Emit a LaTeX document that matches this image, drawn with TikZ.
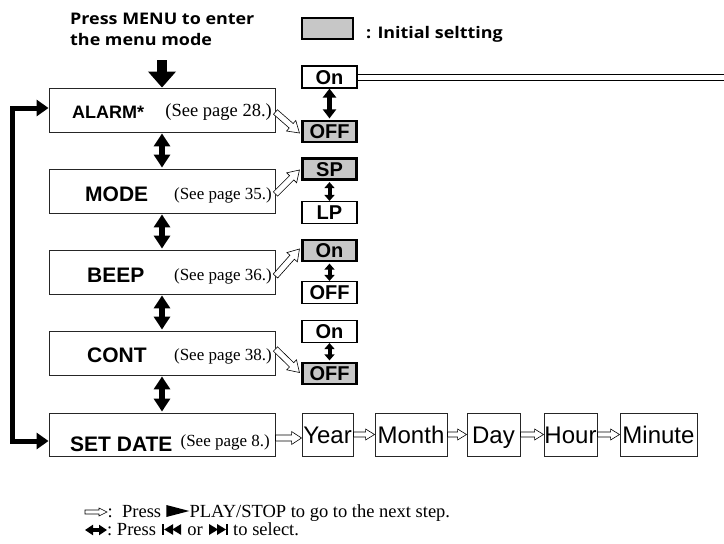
\documentclass[tikz,border=0pt]{standalone}
\usepackage{fontspec}
\setmainfont{Liberation Serif}
\newfontfamily\hs{Liberation Sans}
\newfontfamily\hum[FakeStretch=1.12]{Open Sans}
\usetikzlibrary{arrows.meta,calc}
\newcommand\fs[1]{\fontsize{#1}{#1}\selectfont}
% hollow arrow: start, end, shaft half width, head half width, head length
\newcommand\hollowarrow[5]{%
  \coordinate (hA) at #1; \coordinate (hB) at #2;
  \coordinate (hH) at ($(hB)!#5!(hA)$);
  \draw[hol] ($(hA)!#3!90:(hB)$) -- ($(hH)!#3!-90:(hA)$) -- ($(hH)!#4!-90:(hA)$) -- (hB)
     -- ($(hH)!#4!90:(hA)$) -- ($(hH)!#3!90:(hA)$) -- ($(hA)!#3!-90:(hB)$) -- cycle;}
\begin{document}
\begin{tikzpicture}[x=1pt,y=-1pt,
  mainbox/.style={draw=black!85, line width=0.9pt, minimum width=226pt, minimum height=44pt, inner sep=0pt},
  lbl/.style={font=\hs\bfseries\fs{21}, inner sep=0pt, anchor=base west},
  pagetxt/.style={font=\fs{17}, inner sep=0pt, anchor=base east},
  opt/.style={draw=black, line width=1.1pt, fill=white, minimum width=55pt, minimum height=22pt, inner sep=0pt, font=\hs\bfseries\fs{20}, text height=14.3pt, text depth=0pt},
  optsel/.style={opt, line width=2.6pt, fill=black!22, minimum width=53.5pt, minimum height=21pt},
  datebox/.style={draw=black!85, line width=0.9pt, minimum height=43pt, inner sep=0pt, font=\hs\fs{24}, text height=17.2pt, text depth=0pt},
  hol/.style={draw=black, line width=0.6pt, fill=white, line join=miter},
  dbl/.style={line width=6pt, {Triangle[length=13pt,width=16pt]}-{Triangle[length=13pt,width=16pt]}, shorten <=1pt, shorten >=1pt},
  sdbl/.style={line width=4pt, {Triangle[length=6pt,width=10pt]}-{Triangle[length=6pt,width=10pt]}},
  humtxt/.style={font=\hum\bfseries\fs{16}, inner sep=0pt, anchor=base west},
  legtxt/.style={font=\fs{18.5}, inner sep=0pt, anchor=base west},
]
\useasboundingbox (0,0) rectangle (724,544);

% title
\node[humtxt] (t1) at (70,24) {Press MENU to enter};
\node[humtxt] (t2) at (70,45) {the menu mode};
% legend of initial setting
\node[optsel, minimum width=51pt, minimum height=21pt, line width=2pt] (legbox) at (327.5,28.5) {};
\node[humtxt] (legtext) at (366,38) {: Initial seltting};

% main boxes
\node[mainbox] (alarm) at (162,110) {};
\node[mainbox] (mode) at (162,191) {};
\node[mainbox] (beep) at (162,272) {};
\node[mainbox] (cont) at (162,353) {};
\node[mainbox, minimum height=43pt] (setdate) at (162,434.5) {};

\node[lbl, font=\hs\bfseries\fs{18}] (alarmlbl) at (72,118) {ALARM*};
\node[lbl] (modelbl) at (85,201) {MODE};
\node[lbl] (beeplbl) at (87,282) {BEEP};
\node[lbl] (contlbl) at (87,362) {CONT};
\node[lbl] (setdatelbl) at (70,451) {SET DATE};

\node[pagetxt, font=\fs{18.5}] (alarmpg) at (272,116) {(See page 28.)};
\node[pagetxt] (modepg) at (272,199) {(See page 35.)};
\node[pagetxt] (beeppg) at (272,280) {(See page 36.)};
\node[pagetxt] (contpg) at (272,360) {(See page 38.)};
\node[pagetxt] (setdatepg) at (270,446) {(See page 8.)};

% option boxes
\node[opt] (aon) at (329.5,77) {On};
\node[optsel] (aoff) at (329.5,131.5) {OFF};
\node[optsel] (sp) at (329.5,169) {SP};
\node[opt] (lp) at (329.5,212.5) {LP};
\node[optsel] (bon) at (329.5,250.5) {On};
\node[opt] (boff) at (329.5,292.5) {OFF};
\node[opt] (con) at (329.5,331.5) {On};
\node[optsel] (coff) at (329.5,373.5) {OFF};

% date boxes
\node[datebox, minimum width=51pt] (year) at (327.5,434.5) {Year};
\node[datebox, minimum width=72pt] (month) at (411,434.5) {Month};
\node[datebox, minimum width=53pt] (day) at (493.5,434.5) {Day};
\node[datebox, minimum width=53pt] (hour) at (570.5,434.5) {Hour};
\node[datebox, minimum width=77pt] (minute) at (658.5,434.5) {Minute};

% menu entry arrow
\coordinate (menuin) at (162,60);
\draw[line width=10pt, -{Triangle[length=16pt,width=27pt]}] (menuin) -- (alarm.north);

% main double arrows
\draw[dbl] (alarm.south) -- (mode.north);
\draw[dbl] (mode.south) -- (beep.north);
\draw[dbl] (beep.south) -- (cont.north);
\draw[dbl] (cont.south) -- (setdate.north);

% loop arrow
\coordinate (loopx) at (12.5,0);
\coordinate (ain) at ($(alarm.west)+(0,-2)$);
\coordinate (sin) at ($(setdate.west)+(0,6.5)$);
\draw[line width=5pt, line join=miter, {Triangle[length=12pt,width=16pt]}-{Triangle[length=12pt,width=16pt]}]
  (ain) -- (ain -| loopx) -- (sin -| loopx) -- (sin);

% option double arrows
\draw[line width=4.5pt, {Triangle[length=9pt,width=13pt]}-{Triangle[length=9pt,width=13pt]}, shorten >=1.3pt] (aon.south) -- (aoff.north);
\draw[sdbl, shorten <=1.3pt] (sp.south) -- (lp.north);
\draw[sdbl, shorten <=1.3pt] (bon.south) -- (boff.north);
\draw[sdbl, shorten >=1.3pt] (con.south) -- (coff.north);

% double line from ALARM On
\coordinate (dlend) at (724,76.5);
\coordinate (dla) at ($(aon.east)+(0,-3)$);
\coordinate (dlb) at ($(aon.east)+(0,3)$);
\draw[line width=0.9pt] (dla) -- (dla -| dlend);
\draw[line width=0.9pt] (dlb) -- (dlb -| dlend);

% hollow arrows to options
\hollowarrow{($(alarm.east)+(0,2)$)}{($(aoff.west)+(-2,1.5)$)}{3pt}{7pt}{11pt}
\hollowarrow{($(mode.east)+(0,3)$)}{($(sp.west)+(-2,1)$)}{3pt}{7pt}{11pt}
\hollowarrow{($(beep.east)+(0,4)$)}{($(bon.west)+(-2,-1.5)$)}{3pt}{7pt}{11pt}
\hollowarrow{($(cont.east)+(0,-4)$)}{($(coff.west)+(-2,-1)$)}{3pt}{7pt}{11pt}

% hollow arrows in date row
\hollowarrow{($(setdate.east)+(0,3.5)$)}{($(year.west)+(0,3.5)$)}{3pt}{6.5pt}{10pt}
\hollowarrow{(year.east)}{(month.west)}{2.5pt}{5.5pt}{9pt}
\hollowarrow{(month.east)}{(day.west)}{2.5pt}{5.5pt}{9pt}
\hollowarrow{(day.east)}{(hour.west)}{2.5pt}{5.5pt}{9pt}
\hollowarrow{(hour.east)}{(minute.west)}{2.5pt}{5.5pt}{9pt}

% bottom legend, line 1
\coordinate (ha1) at (85,512);
\coordinate (ha2) at (107,512);
\hollowarrow{(ha1)}{(ha2)}{2pt}{4pt}{8pt}
\node[legtxt] (l1a) at (107.5,517) {:\ \ Press};
\coordinate (pl) at ($(l1a.base east)+(5,0)$);
\fill (pl) -- ++(0,-12) -- ++(23,6) -- cycle;
\node[legtxt] (l1b) at ($(pl)+(23,0)$) {PLAY/STOP to go to the next step.};

% bottom legend, line 2
\coordinate (da1) at (85,530);
\coordinate (da2) at (107,530);
\draw[line width=3.5pt, {Triangle[length=8pt,width=10pt]}-{Triangle[length=8pt,width=10pt]}] (da1) -- (da2);
\node[legtxt] (l2a) at (107,535) {:\ Press};
\coordinate (pv) at ($(l2a.base east)+(6,0)$);
\fill (pv) rectangle ++(2,-11);
\fill ($(pv)+(2,-5.5)$) -- ++(9,-5.5) -- ++(0,11) -- cycle;
\fill ($(pv)+(10,-5.5)$) -- ++(9,-5.5) -- ++(0,11) -- cycle;
\node[legtxt] (l2b) at ($(pv)+(25,0)$) {or};
\coordinate (nx) at ($(l2b.base east)+(6,0)$);
\fill (nx) -- ++(0,-11) -- ++(9,5.5) -- cycle;
\fill ($(nx)+(8,0)$) -- ++(0,-11) -- ++(9,5.5) -- cycle;
\fill ($(nx)+(17,0)$) rectangle ++(2,-11);
\node[legtxt] (l2c) at ($(nx)+(24,0)$) {to select.};
\end{tikzpicture}
\end{document}
